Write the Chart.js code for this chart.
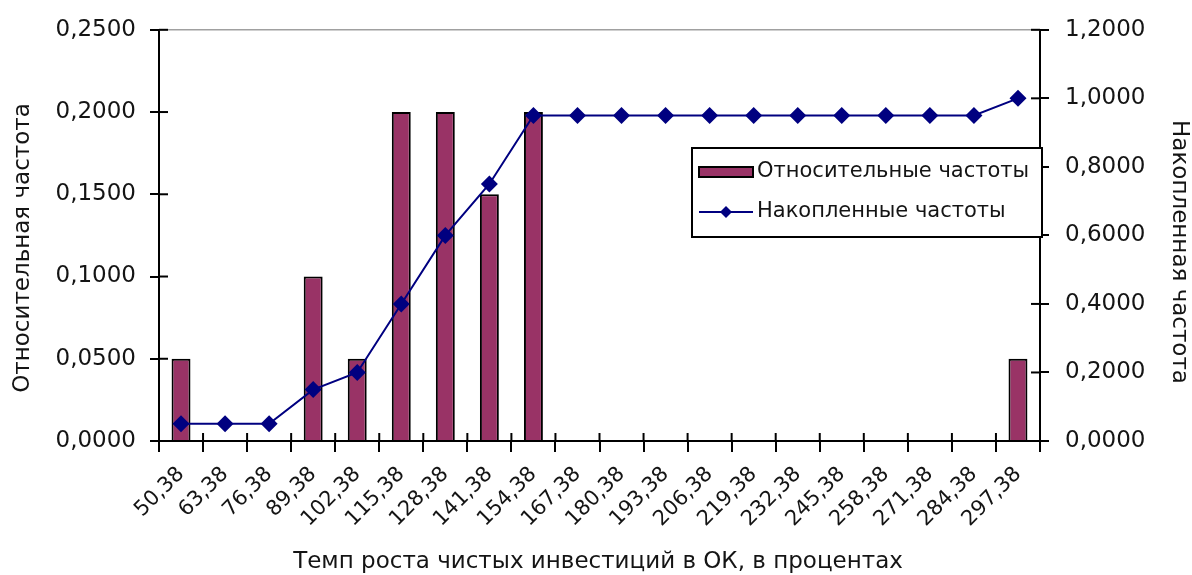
<!DOCTYPE html>
<html>
<head>
<meta charset="utf-8">
<script src="https://cdn.jsdelivr.net/npm/chart.js@4.4.1/dist/chart.umd.min.js"></script>
<style>
  html, body { margin: 0; padding: 0; background: #ffffff; }
  #wrap { width: 1192px; height: 575px; }
</style>
</head>
<body>
<div id="wrap"><canvas id="c" width="1192" height="575"></canvas></div>
<script>
// Интервалы темпа роста (середины), %
const categories = ['50,38', '63,38', '76,38', '89,38', '102,38', '115,38', '128,38',
  '141,38', '154,38', '167,38', '180,38', '193,38', '206,38', '219,38', '232,38',
  '245,38', '258,38', '271,38', '284,38', '297,38'];

// Относительные частоты по интервалам
const relativeFreq = [0.05, 0, 0, 0.10, 0.05, 0.20, 0.20, 0.15, 0.20, 0, 0, 0, 0, 0, 0, 0, 0, 0, 0, 0.05];

// Накопленные частоты
const cumulativeFreq = [0.05, 0.05, 0.05, 0.15, 0.20, 0.40, 0.60, 0.75, 0.95, 0.95, 0.95, 0.95,
  0.95, 0.95, 0.95, 0.95, 0.95, 0.95, 0.95, 1.00];

const seriesNames = ['Относительные частоты', 'Накопленные частоты'];
const axisTitles = {
  x: 'Темп роста чистых инвестиций в ОК, в процентах',
  left: 'Относительная частота',
  right: 'Накопленная частота'
};

const FONT = 'DejaVu Sans';
const TEXT = '#141414';
const fmt4 = v => Number(v).toFixed(4).replace('.', ',');

// Excel-style ticks that cross the axis line: draw the inner half of each tick
const crossTicks = {
  id: 'crossTicks',
  afterDraw(chart) {
    const ctx = chart.ctx;
    const a = chart.chartArea;
    ctx.save();
    // light frame line along the top of the plot
    ctx.beginPath();
    ctx.strokeStyle = '#a0a0a0';
    ctx.lineWidth = 1.5;
    ctx.moveTo(a.left, a.top);
    ctx.lineTo(a.right, a.top);
    ctx.stroke();
    ctx.strokeStyle = '#000';
    ctx.lineWidth = 2;
    const yl = chart.scales.y;
    yl.ticks.forEach((t, i) => {
      const p = yl.getPixelForTick(i);
      ctx.beginPath(); ctx.moveTo(a.left, p); ctx.lineTo(a.left + 9, p); ctx.stroke();
    });
    const yr = chart.scales.y2;
    yr.ticks.forEach((t, i) => {
      const p = yr.getPixelForTick(i);
      ctx.beginPath(); ctx.moveTo(a.right, p); ctx.lineTo(a.right - 9, p); ctx.stroke();
    });
    const xs = chart.scales.x;
    const n = xs.ticks.length;
    for (let i = 0; i <= n; i++) {
      const p = xs.getPixelForValue(i - 0.5);
      ctx.beginPath(); ctx.moveTo(p, a.bottom); ctx.lineTo(p, a.bottom - 8); ctx.stroke();
    }
    ctx.restore();
  }
};

// Axis titles
const axisTitleText = {
  id: 'axisTitleText',
  afterDraw(chart) {
    const ctx = chart.ctx;
    ctx.save();
    ctx.font = '23px "' + FONT + '"';
    ctx.fillStyle = TEXT;
    ctx.textAlign = 'center';
    ctx.textBaseline = 'middle';
    ctx.fillText(axisTitles.x, 598, 562);
    ctx.save();
    ctx.translate(23, 248);
    ctx.rotate(-Math.PI / 2);
    ctx.fillText(axisTitles.left, 0, 0);
    ctx.restore();
    ctx.save();
    ctx.translate(1179, 252);
    ctx.rotate(Math.PI / 2);
    ctx.fillText(axisTitles.right, 0, 0);
    ctx.restore();
    ctx.restore();
  }
};

// Boxed legend placed inside the plot, at the upper right
const boxLegend = {
  id: 'boxLegend',
  afterDraw(chart) {
    const ctx = chart.ctx;
    const bar = chart.data.datasets.find(d => d.type === 'bar');
    const line = chart.data.datasets.find(d => d.type === 'line');
    const box = { x: 692, y: 148, w: 350, h: 89 };
    ctx.save();
    ctx.fillStyle = '#fff';
    ctx.fillRect(box.x, box.y, box.w, box.h);
    ctx.strokeStyle = '#000';
    ctx.lineWidth = 2;
    ctx.strokeRect(box.x, box.y, box.w, box.h);
    ctx.font = '21px "' + FONT + '"';
    ctx.textBaseline = 'middle';
    // bar item
    const y1 = box.y + 24;
    ctx.fillStyle = bar.backgroundColor;
    ctx.fillRect(box.x + 7, y1 - 5, 54, 10);
    ctx.strokeStyle = '#000';
    ctx.lineWidth = 2;
    ctx.strokeRect(box.x + 7, y1 - 5, 54, 10);
    ctx.fillStyle = TEXT;
    ctx.fillText(bar.label, box.x + 65, y1);
    // line item
    const y2 = box.y + 64;
    ctx.strokeStyle = line.borderColor;
    ctx.lineWidth = 2;
    ctx.beginPath(); ctx.moveTo(box.x + 7, y2); ctx.lineTo(box.x + 61, y2); ctx.stroke();
    ctx.fillStyle = line.pointBackgroundColor;
    const cx = box.x + 34, r = 6;
    ctx.beginPath();
    ctx.moveTo(cx, y2 - r); ctx.lineTo(cx + r, y2); ctx.lineTo(cx, y2 + r); ctx.lineTo(cx - r, y2);
    ctx.closePath(); ctx.fill();
    ctx.fillStyle = TEXT;
    ctx.fillText(line.label, box.x + 65, y2);
    ctx.restore();
  }
};

new Chart(document.getElementById('c'), {
  data: {
    labels: categories,
    datasets: [
      {
        type: 'bar',
        label: seriesNames[0],
        data: relativeFreq,
        yAxisID: 'y',
        backgroundColor: '#993366',
        borderColor: '#000000',
        borderWidth: 2,
        barPercentage: 0.43,
        categoryPercentage: 1.0,
        order: 1
      },
      {
        type: 'line',
        label: seriesNames[1],
        data: cumulativeFreq,
        yAxisID: 'y2',
        borderColor: '#000080',
        borderWidth: 2,
        pointStyle: 'rectRot',
        pointRadius: 8.5,
        pointBackgroundColor: '#000080',
        pointBorderColor: '#000080',
        pointBorderWidth: 0,
        tension: 0,
        order: 0
      }
    ]
  },
  options: {
    responsive: false,
    animation: false,
    devicePixelRatio: 1,
    layout: { padding: { top: 26, left: 0, right: 0, bottom: 0 } },
    plugins: {
      legend: { display: false },
      tooltip: { enabled: false }
    },
    scales: {
      x: {
        type: 'category',
        offset: true,
        grid: { offset: true, drawOnChartArea: false, drawTicks: true, tickLength: 11, color: '#000', lineWidth: 2 },
        border: { display: true, color: '#000', width: 2 },
        ticks: {
          autoSkip: false, maxRotation: 45, minRotation: 45, padding: 10,
          color: TEXT, font: { family: FONT, size: 21 }
        },
        afterFit(s) { s.height = 134; }
      },
      y: {
        position: 'left',
        min: 0, max: 0.25,
        ticks: { stepSize: 0.05, padding: 14, color: TEXT, font: { family: FONT, size: 23 }, callback: v => fmt4(v) },
        grid: { drawOnChartArea: false, drawTicks: true, tickLength: 9, color: '#000', lineWidth: 2 },
        border: { display: true, color: '#000', width: 2 },
        afterFit(s) { s.width = 159; }
      },
      y2: {
        position: 'right',
        min: 0, max: 1.2,
        ticks: { stepSize: 0.2, padding: 16, color: TEXT, font: { family: FONT, size: 23 }, callback: v => fmt4(v) },
        grid: { drawOnChartArea: false, drawTicks: true, tickLength: 9, color: '#000', lineWidth: 2 },
        border: { display: true, color: '#000', width: 2 },
        afterFit(s) { s.width = 152; }
      }
    }
  },
  plugins: [crossTicks, axisTitleText, boxLegend]
});
</script>
</body>
</html>
